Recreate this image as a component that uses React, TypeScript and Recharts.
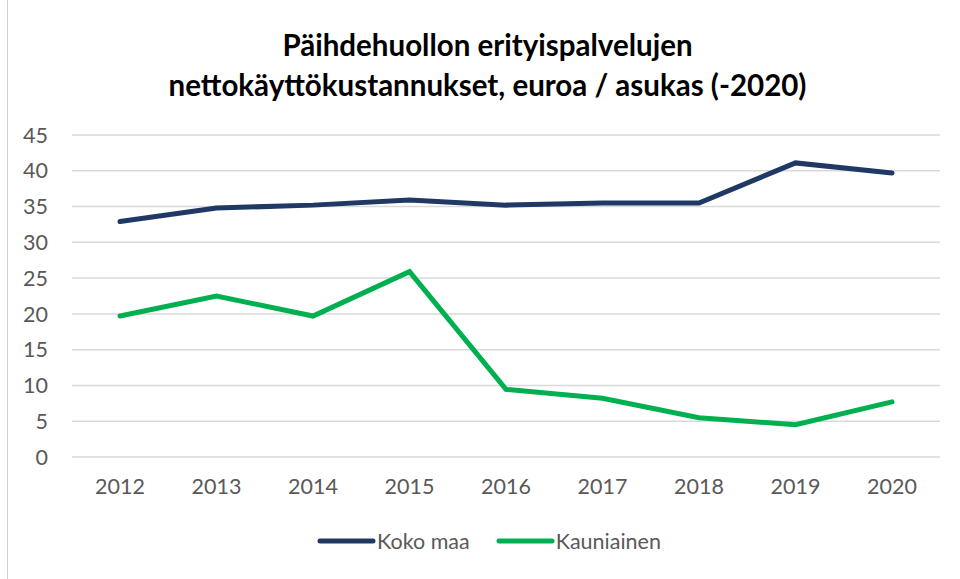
import { LineChart, Line, XAxis, YAxis, CartesianGrid, Legend } from "recharts"

const years = ["2012", "2013", "2014", "2015", "2016", "2017", "2018", "2019", "2020"]
const kokoMaa = [32.9, 34.8, 35.2, 35.9, 35.2, 35.5, 35.5, 41.1, 39.7]
const kauniainen = [19.7, 22.5, 19.7, 25.9, 9.45, 8.2, 5.5, 4.5, 7.7]
const yTicks = [0, 5, 10, 15, 20, 25, 30, 35, 40, 45]
const titleLines = ["Päihdehuollon erityispalvelujen", "nettokäyttökustannukset, euroa / asukas (-2020)"]

const NAVY = "#203864"
const GREEN = "#00B050"
const FONT = "Lato, 'Open Sans', sans-serif"

const data = years.map((y, i) => ({ year: y, "Koko maa": kokoMaa[i], Kauniainen: kauniainen[i] }))

function LegendContent() {
  const items = [
    { name: "Koko maa", color: NAVY },
    { name: "Kauniainen", color: GREEN },
  ]
  return (
    <div style={{ display: "flex", justifyContent: "center", gap: 26, fontFamily: FONT, fontSize: 21.5, color: "#595959", paddingLeft: 18 }}>
      {items.map((it) => (
        <div key={it.name} style={{ display: "flex", alignItems: "center" }}>
          <svg width={60} height={12}>
            <line x1={3} y1={6} x2={56} y2={6} stroke={it.color} strokeWidth={5} strokeLinecap="round" />
          </svg>
          <span>{it.name}</span>
        </div>
      ))}
    </div>
  )
}

export default function App() {
  return (
    <div style={{ position: "absolute", left: 0, top: 0, width: 960, height: 579, background: "#fff" }}>
      <div style={{ position: "absolute", left: 7, top: 0, width: 1, height: 579, background: "#d0d0d0" }} />
      <div
        style={{
          position: "absolute",
          top: 25,
          left: 0,
          width: 975,
          textAlign: "center",
          fontFamily: FONT,
          fontWeight: 700,
          fontSize: 29.5,
          lineHeight: "40px",
          color: "#000",
        }}
      >
        {titleLines.map((t) => (
          <div key={t}>{t}</div>
        ))}
      </div>
      <LineChart
        width={960}
        height={579}
        data={data}
        margin={{ top: 135, right: 20, bottom: 82, left: 0 }}
      >
        <CartesianGrid vertical={false} stroke="#d9d9d9" strokeWidth={1.5} />
        <XAxis
          dataKey="year"
          height={40}
          padding={{ left: 48, right: 48 }}
          axisLine={false}
          tickLine={false}
          tickSize={0}
          tickMargin={22}
          tick={{ fill: "#595959", fontSize: 21.5, fontFamily: FONT }}
        />
        <YAxis
          width={72}
          domain={[0, 45]}
          ticks={yTicks}
          interval={0}
          axisLine={false}
          tickLine={false}
          tickSize={0}
          tickMargin={24}
          tick={{ fill: "#595959", fontSize: 21.5, fontFamily: FONT }}
        />
        <Legend
          verticalAlign="middle"
          layout="horizontal"
          align="center"
          wrapperStyle={{ top: 528, left: 0, width: 960 }}
          content={<LegendContent />}
        />
        <Line type="linear" dataKey="Koko maa" stroke={NAVY} strokeWidth={5} strokeLinecap="round" dot={false} isAnimationActive={false} />
        <Line type="linear" dataKey="Kauniainen" stroke={GREEN} strokeWidth={5} strokeLinecap="round" dot={false} isAnimationActive={false} />
      </LineChart>
    </div>
  )
}
